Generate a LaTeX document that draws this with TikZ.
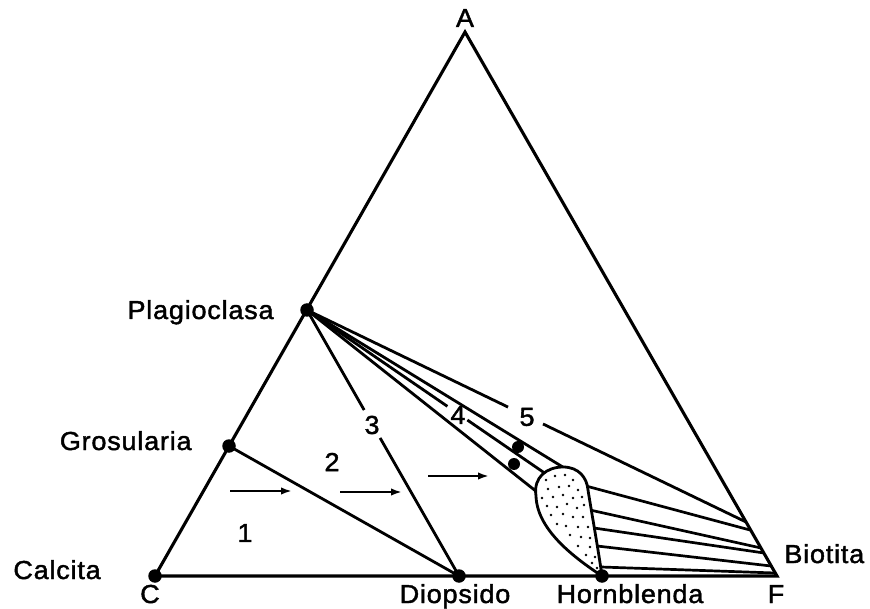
\documentclass[tikz,border=0pt]{standalone}
\usepackage{fontspec}
\setmainfont{Liberation Sans}[FakeStretch=1.04,LetterSpace=3,FakeBold=1.6]
\usetikzlibrary{arrows.meta,calc}
\begin{document}
\begin{tikzpicture}[x=1pt,y=-1pt,line width=2.8pt,
  lbl/.style={font=\fontsize{26}{30}\selectfont,inner sep=0pt},
  vtx/.style={circle,fill=black,inner sep=0pt,minimum size=13.5pt},
  banddot/.style={circle,fill=black,inner sep=0pt,minimum size=12pt},
  stip/.style={circle,fill=black,inner sep=0pt,minimum size=2.6pt},
  arr/.style={line width=2.4pt,-{Latex[length=11pt,width=7.5pt]}},
  triedge/.style={line width=3.1pt},
  tieline/.style={line width=2.7pt},
  fanline/.style={line width=2.8pt}]
\useasboundingbox (0,0) rectangle (870,609);
% main points
\coordinate (A) at (465,32);
\coordinate (C) at (155,576);
\coordinate (F) at (777,576);
\coordinate (P) at (307,310);
\coordinate (G) at (229,446);
\coordinate (D) at (459,576);
\coordinate (H) at (602,576);
% fan ends
\coordinate (E5) at (746,522);
\coordinate (E4u) at (566,469);
\coordinate (E4m) at (546,474);
\coordinate (E4l) at (537,492);
% tie lines
\coordinate (T1s) at (586,486); \coordinate (T1e) at (750,530);
\coordinate (T2s) at (590,510); \coordinate (T2e) at (761,548);
\coordinate (T3s) at (594,528); \coordinate (T3e) at (764,553);
\coordinate (T4s) at (597,546); \coordinate (T4e) at (771,566);
\coordinate (T5s) at (601,567); \coordinate (T5e) at (775,573);
% arrows
\coordinate (a1s) at (230,491); \coordinate (a1e) at (292,491);
\coordinate (a2s) at (340,492); \coordinate (a2e) at (402,492);
\coordinate (a3s) at (428,476); \coordinate (a3e) at (489,476);

% triangle
\draw[triedge] (C) -- (A) -- (F) -- cycle;
% grosularia - diopsido
\draw[fanline] (G) -- (D);
% line 3 with gap
\draw[fanline] (P) -- ($(P)!0.376!(D)$);
\draw[fanline] ($(P)!0.481!(D)$) -- (D);
% band 4
\draw[fanline] (P) -- (E4u);
\draw[fanline] (P) -- ($(P)!0.5875!(E4m)$);
\draw[fanline] ($(P)!0.671!(E4m)$) -- (E4m);
\draw[fanline] (P) -- (E4l);
% line 5 with gap
\draw[fanline] (P) -- ($(P)!0.458!(E5)$);
\draw[fanline] ($(P)!0.5376!(E5)$) -- (E5);
% tie lines
\draw[tieline] (T1s) -- (T1e);
\draw[tieline] (T2s) -- (T2e);
\draw[tieline] (T3s) -- (T3e);
\draw[tieline] (T4s) -- (T4e);
\draw[tieline] (T5s) -- (T5e);

% hornblende field
\def\blobpath{(602,576) .. controls (570,555) and (537,528) .. (536,496) .. controls (533,477) and (547,467) .. (563,467) .. controls (579,467) and (587,478) .. (588,490) .. controls (592,515) and (598,548) .. (602,576) -- cycle}
\fill[white] \blobpath;
\begin{scope}
\clip \blobpath;
\foreach \px/\py [count=\i] in {546/480,555/476,565/475,573/480,
  548/489,559/487,569/486,578/490,
  542/498,553/497,563/495,573/498,582/497,
  547/506,557/507,567/504,577/508,584/505,
  551/515,563/514,573/517,583/517,
  557/524,566/526,578/527,588/527,
  570/535,581/537,590/538,
  578/546,590/547,
  586/555,595/557,
  592/563,597/568}
  \node[stip] (s\i) at (\px,\py) {};
\end{scope}
\draw[line width=2.8pt] \blobpath;

% arrows
\draw[arr] (a1s) -- (a1e);
\draw[arr] (a2s) -- (a2e);
\draw[arr] (a3s) -- (a3e);

% points
\node[vtx] (nP) at (P) {};
\node[vtx] (nG) at (G) {};
\node[vtx] (nC) at (C) {};
\node[vtx] (nD) at (D) {};
\node[vtx] (nH) at (H) {};
\node[banddot] (d1) at (518,447) {};
\node[banddot] (d2) at (514,464) {};

% labels
\node[lbl,anchor=base] (lA) at (465,27) {A};
\node[lbl,anchor=base east] (lP) at (275,319) {Plagioclasa};
\node[lbl,anchor=base east] (lG) at (193,450) {Grosularia};
\node[lbl,anchor=base west] (lCal) at (12,579) {Calcita};
\node[lbl,anchor=base] (lC) at (150,603) {C};
\node[lbl,anchor=base] (lD) at (455,603) {Diopsido};
\node[lbl,anchor=base] (lH) at (630,603) {Hornblenda};
\node[lbl,anchor=base] (lF) at (776,603) {F};
\node[lbl,anchor=base west] (lB) at (783,563) {Biotita};
% field numbers
\node[lbl] (n1) at (245,533) {1};
\node[lbl] (n2) at (332,462) {2};
\node[lbl] (n3) at (372,425) {3};
\node[lbl] (n4) at (458,415) {4};
\node[lbl] (n5) at (527,417) {5};
\end{tikzpicture}
\end{document}
